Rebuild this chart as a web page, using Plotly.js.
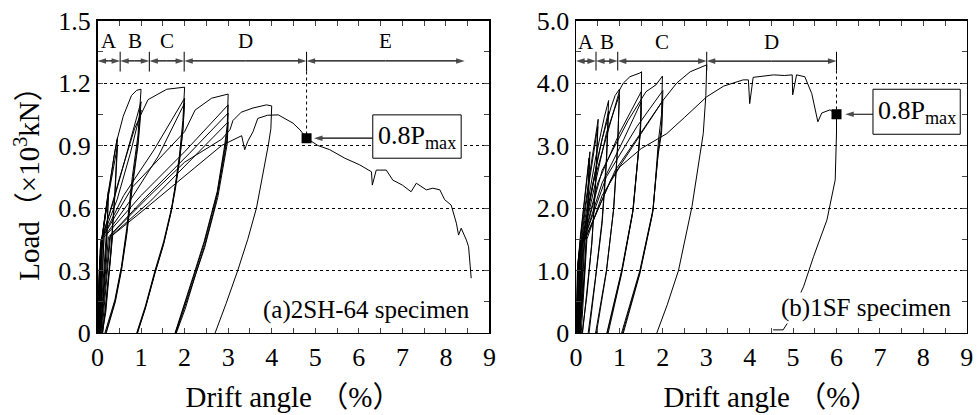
<!DOCTYPE html>
<html>
<head>
<meta charset="utf-8">
<script src="https://cdn.plot.ly/plotly-3.0.1.min.js"></script>
<style>html,body{margin:0;padding:0;background:#fff;}#chart{width:978px;height:415px;}</style>
</head>
<body>
<div id="chart"></div>
<script>
// ---------- data: specimen (a) 2SH-64, drift (%) and load (x10^3 kN), null separates branches ----------
const aDrift = [
  0,0.03,0.07,0.15,0.25,0.21,0.14,0.06,null,
  0,0.04,0.12,0.25,0.21,0.14,0.07,null,
  0,0.05,0.15,0.28,0.38,0.46,0.40,0.30,0.18,0.10,null,
  0.01,0.06,0.20,0.46,0.40,0.30,0.19,0.11,null,
  0.02,0.08,0.25,0.44,0.59,0.78,0.90,1.00,0.93,0.80,0.67,0.55,0.40,0.17,null,
  0.03,0.07,0.35,0.70,1.00,0.93,0.80,0.67,0.55,0.40,0.19,null,
  0.04,0.10,0.45,0.75,1.00,0.93,0.80,0.67,0.55,0.41,0.20,null,
  0.05,0.12,0.50,0.85,1.00,1.16,1.59,1.85,2.00,1.96,1.88,1.78,1.70,1.52,1.32,1.10,0.90,null,
  0.03,0.10,0.60,1.30,2.00,1.96,1.88,1.78,1.70,1.52,1.32,1.10,0.91,null,
  0.05,0.15,0.70,1.40,2.00,1.96,1.88,1.78,1.69,1.51,1.31,1.10,0.92,null,
  0.05,0.15,0.80,1.60,2.00,2.24,2.62,3.00,2.98,2.92,2.85,2.75,2.65,2.45,2.24,2.00,1.78,null,
  0.05,0.20,1.00,2.00,3.00,2.98,2.92,2.85,2.75,2.65,2.45,2.24,2.00,1.79,null,
  0.07,0.25,1.10,2.10,3.00,2.98,2.92,2.85,2.75,2.66,2.46,2.25,2.01,1.80,null,
  0.08,0.28,1.20,2.20,3.00,2.98,2.92,2.85,2.76,2.66,2.46,2.25,2.02,1.81,null,
  0.10,0.30,1.20,2.00,2.85,3.04,3.11,3.30,3.57,3.88,4.00,3.98,3.92,3.80,3.65,3.45,3.22,2.95,2.70,null,
  0.12,0.35,1.00,1.70,2.40,2.85,3.31,3.38,3.45,3.57,3.68,3.90,4.15,4.49,4.65,4.80,5.06,5.33,5.68,6.02,6.29,6.31,6.40,6.63,6.78,7.00,7.20,7.32,7.55,7.70,7.86,7.97,8.12,8.24,8.29,8.35,8.47,8.52,8.58
];
const aLoad = [
  0,0.22,0.38,0.53,0.68,0.45,0.20,0,null,
  0,0.30,0.47,0.66,0.44,0.19,0,null,
  0,0.35,0.52,0.72,0.85,0.94,0.68,0.38,0.10,0,null,
  0,0.40,0.60,0.90,0.66,0.36,0.10,0,null,
  0,0.42,0.68,0.92,1.04,1.14,1.165,1.17,0.95,0.75,0.50,0.32,0.16,0,null,
  0,0.44,0.62,0.88,1.11,0.92,0.72,0.48,0.31,0.15,0,null,
  0,0.45,0.64,0.86,1.07,0.90,0.70,0.47,0.30,0.15,0,null,
  0,0.46,0.74,0.98,1.05,1.12,1.17,1.175,1.18,1.02,0.85,0.70,0.60,0.44,0.30,0.13,0,null,
  0,0.45,0.66,0.88,1.127,0.98,0.83,0.69,0.59,0.43,0.29,0.12,0,null,
  0,0.46,0.62,0.85,1.104,0.97,0.82,0.68,0.58,0.42,0.28,0.12,0,null,
  0,0.47,0.70,0.88,0.966,1.07,1.127,1.147,1.00,0.90,0.80,0.68,0.60,0.44,0.30,0.14,0,null,
  0,0.47,0.66,0.87,1.095,0.97,0.88,0.79,0.67,0.59,0.43,0.29,0.13,0,null,
  0,0.46,0.65,0.86,1.056,0.94,0.86,0.77,0.66,0.58,0.42,0.28,0.13,0,null,
  0,0.46,0.63,0.84,1.013,0.91,0.84,0.76,0.65,0.57,0.41,0.28,0.12,0,null,
  0,0.47,0.66,0.82,0.93,0.975,1.02,1.06,1.08,1.095,1.09,0.98,0.90,0.77,0.60,0.45,0.30,0.14,0,null,
  0,0.47,0.58,0.70,0.82,0.90,0.947,0.88,0.92,0.966,1.03,1.045,1.047,1.007,0.975,0.935,0.90,0.88,0.839,0.807,0.774,0.71,0.782,0.782,0.734,0.71,0.678,0.719,0.687,0.695,0.687,0.64,0.614,0.527,0.47,0.503,0.446,0.414,0.263
];
// ---------- data: specimen (b) 1SF ----------
const bDrift = [
  0,0.02,0.05,0.10,0.18,0.26,0.32,0.28,0.20,0.12,0.07,null,
  0,0.03,0.10,0.20,0.30,0.26,0.19,0.12,0.08,null,
  0.01,0.04,0.12,0.26,0.38,0.45,0.51,0.46,0.37,0.25,0.14,null,
  0.02,0.05,0.15,0.30,0.50,0.45,0.36,0.24,0.15,null,
  0.03,0.06,0.20,0.45,0.65,0.75,0.70,0.60,0.45,0.28,null,
  0.04,0.08,0.25,0.50,0.75,0.70,0.60,0.46,0.30,null,
  0.04,0.08,0.30,0.60,0.80,0.90,1.00,0.96,0.87,0.70,0.45,null,
  0.05,0.10,0.35,0.70,1.00,0.95,0.86,0.70,0.47,null,
  0.05,0.10,0.40,0.80,1.01,1.09,1.24,1.47,1.51,1.50,1.45,1.32,1.05,0.71,null,
  0.06,0.12,0.50,1.00,1.50,1.49,1.44,1.31,1.05,0.72,null,
  0.07,0.14,0.60,1.10,1.50,1.48,1.43,1.30,1.05,0.74,null,
  0.07,0.14,0.60,1.20,1.61,1.84,1.99,1.97,1.90,1.78,1.47,1.05,null,
  0.08,0.16,0.70,1.40,2.00,1.97,1.90,1.77,1.47,1.07,null,
  0.09,0.18,0.80,1.50,2.00,1.97,1.89,1.76,1.47,1.09,null,
  0.10,0.20,0.90,1.60,2.00,2.32,2.63,3.01,2.99,2.93,2.67,2.36,2.10,1.86,null,
  0.12,0.25,0.60,1.01,1.50,2.09,2.50,3.01,3.40,3.85,3.97,4.00,4.08,4.55,4.80,4.98,4.99,5.08,5.27,5.43,5.57,5.66,5.85,6.00,6.00,5.97,5.78,5.47,5.24,5.00,4.89,4.77,4.54
];
const bLoad = [
  0,0.6,1.1,1.5,2.0,2.5,2.9,2.0,1.0,0.3,0,null,
  0,1.0,1.55,2.2,2.8,1.9,0.95,0.3,0,null,
  0,1.1,1.6,2.3,2.85,3.15,3.42,2.5,1.5,0.6,0,null,
  0,1.15,1.65,2.4,3.3,2.4,1.4,0.55,0,null,
  0,1.2,1.8,2.8,3.45,3.72,2.8,1.8,0.9,0,null,
  0,1.2,1.85,2.8,3.55,2.7,1.75,0.9,0,null,
  0,1.25,2.1,3.1,3.6,3.8,3.9,3.0,2.0,1.0,0,null,
  0,1.3,2.1,3.2,3.81,2.9,1.95,0.98,0,null,
  0,1.3,2.4,3.4,3.9,4.0,4.1,4.16,4.18,3.5,3.0,2.0,1.0,0,null,
  0,1.35,2.4,3.2,3.86,3.3,2.9,1.95,0.97,0,null,
  0,1.4,2.4,3.1,3.7,3.2,2.85,1.9,0.95,0,null,
  0,1.4,2.6,3.4,3.86,3.97,4.11,3.5,3.09,2.0,1.0,0,null,
  0,1.45,2.5,3.3,3.88,3.3,2.95,1.95,0.97,0,null,
  0,1.45,2.45,3.2,3.72,3.2,2.85,1.9,0.95,0,null,
  0,1.5,2.6,3.3,3.72,4.0,4.18,4.29,3.8,3.19,2.02,1.0,0.45,0,null,
  0,1.5,2.2,2.66,2.95,3.19,3.45,3.78,3.95,4.05,4.05,3.67,4.09,4.13,4.12,4.13,3.81,4.13,4.10,3.83,3.38,3.52,3.57,3.50,3.2,2.45,1.81,1.22,0.74,0.38,0.18,0.05,0.05
];
// 0.8Pmax points
const aPmaxDrift = [4.8];
const aPmaxLoad = [0.935];
const bPmaxDrift = [6.0];
const bPmaxLoad = [3.5];
// stage boundaries (drift %) and names
const aStageBounds = [0, 0.52, 1.19, 1.99, 4.8, 8.43];
const aStageNames = ['A','B','C','D','E'];
const bStageBounds = [0, 0.46, 0.96, 3.01, 6.0];
const bStageNames = ['A','B','C','D'];
// ticks
const xTicks = [0,1,2,3,4,5,6,7,8,9];
const aYTicks = [0,0.3,0.6,0.9,1.2,1.5];
const aYTickText = ['0','0.3','0.6','0.9','1.2','1.5'];
const bYTicks = [0,1,2,3,4,5];
const bYTickText = ['0','1.0','2.0','3.0','4.0','5.0'];

// ---------- styling / layout ----------
const FONT = 'Liberation Serif, Times New Roman, Noto Sans CJK SC, serif';
const lineStyle = {color:'#000', width:1};
const traces = [
  {x:aDrift, y:aLoad, xaxis:'x', yaxis:'y', mode:'lines', line:lineStyle, connectgaps:false, hoverinfo:'skip'},
  {x:bDrift, y:bLoad, xaxis:'x2', yaxis:'y2', mode:'lines', line:lineStyle, connectgaps:false, hoverinfo:'skip'},
  {x:aPmaxDrift, y:aPmaxLoad, xaxis:'x', yaxis:'y', mode:'markers', marker:{symbol:'square', size:10, color:'#000'}, hoverinfo:'skip'},
  {x:bPmaxDrift, y:bPmaxLoad, xaxis:'x2', yaxis:'y2', mode:'markers', marker:{symbol:'square', size:10, color:'#000'}, hoverinfo:'skip'}
];

// double-headed dimension arrows as line traces with arrow symbols at both ends
function stageArrows(bounds, yLevel, xa, ya){
  const xs=[], ys=[], sz=[];
  for (let i=0;i<bounds.length-1;i++){
    const mid=(bounds[i]+bounds[i+1])/2;
    xs.push(mid, bounds[i+1], null, mid, bounds[i], null);
    ys.push(yLevel, yLevel, null, yLevel, yLevel, null);
    sz.push(0, 9, 0, 0, 9, 0);
  }
  return {x:xs, y:ys, xaxis:xa, yaxis:ya, mode:'lines+markers', line:{color:'#000', width:1.2},
    marker:{symbol:'arrow', angleref:'previous', size:sz, color:'#000', line:{width:0}}, hoverinfo:'skip', cliponaxis:false};
}
traces.push(stageArrows(aStageBounds, 1.306, 'x', 'y'));
traces.push(stageArrows(bStageBounds, 4.35, 'x2', 'y2'));
// pointer arrows from the 0.8Pmax boxes
function pointer(xFrom, xTo, yLevel, xa, ya){
  return {x:[xFrom, xTo], y:[yLevel, yLevel], xaxis:xa, yaxis:ya, mode:'lines+markers', line:{color:'#000', width:1.2},
    marker:{symbol:'arrow', angleref:'previous', size:[0,9], color:'#000', line:{width:0}}, hoverinfo:'skip'};
}
traces.push(pointer(6.32, 4.97, aPmaxLoad[0], 'x', 'y'));
traces.push(pointer(6.84, 6.2, bPmaxLoad[0], 'x2', 'y2'));

function xAxis(domain, anchor){
  return {domain:domain, anchor:anchor, range:[0,9], tickvals:xTicks, ticks:'inside', ticklen:5, tickwidth:1,
    minor:{dtick:0.5, ticks:'inside', ticklen:5, tickwidth:1, showgrid:false},
    mirror:'allticks', showline:true, linewidth:1.5, linecolor:'#000', showgrid:false, zeroline:false,
    tickfont:{family:FONT, size:26, color:'#000'},
    title:{text:'Drift angle （%）', font:{family:FONT, size:29, color:'#000'}, standoff:16}};
}
function yAxis(domain, anchor, range, vals, text, minorStep){
  return {domain:domain, anchor:anchor, range:range, tickvals:vals, ticktext:text, ticks:'inside', ticklen:5, tickwidth:1,
    minor:{dtick:minorStep, ticks:'inside', ticklen:5, tickwidth:1, showgrid:false},
    mirror:'allticks', showline:true, linewidth:1.5, linecolor:'#000',
    showgrid:true, gridcolor:'#000', gridwidth:1, griddash:'dot', zeroline:false,
    tickfont:{family:FONT, size:26, color:'#000'}};
}

const yDom = [0.1976, 0.9506];
const layout = {
  width:978, height:415, margin:{l:0,r:0,t:0,b:0}, paper_bgcolor:'#fff', plot_bgcolor:'#fff',
  showlegend:false,
  xaxis: xAxis([0.0997,0.5005],'y'),
  yaxis: yAxis(yDom,'x',[0,1.5],aYTicks,aYTickText,0.15),
  xaxis2: xAxis([0.589,0.9885],'y2'),
  yaxis2: yAxis(yDom,'x2',[0,5],bYTicks,bYTickText,0.5),
  shapes:[], annotations:[]
};

// stage tick lines and letters
function addStages(xr, yr, bounds, names, yTick0, yTick1, yLabel, lastIsEnd){
  for (let i=1;i<bounds.length;i++){
    if (i < bounds.length-1 || !lastIsEnd){
      layout.shapes.push({type:'line', xref:xr, yref:yr, x0:bounds[i], x1:bounds[i], y0:yTick0, y1:yTick1, line:{color:'#000', width:1}});
    }
  }
  for (let i=0;i<bounds.length-1;i++){
    layout.annotations.push({xref:xr, yref:yr, x:(bounds[i]+bounds[i+1])/2, y:yLabel, text:names[i], showarrow:false,
      font:{family:FONT, size:21, color:'#000'}});
  }
}
addStages('x','y',aStageBounds,aStageNames,1.255,1.35,1.40,true);
addStages('x2','y2',bStageBounds,bStageNames,4.2,4.5,4.66,false);

// dotted drop lines to 0.8Pmax
layout.shapes.push({type:'line', xref:'x', yref:'y', x0:aPmaxDrift[0], x1:aPmaxDrift[0], y0:1.255, y1:aPmaxLoad[0], line:{color:'#000', width:1, dash:'dot'}});
layout.shapes.push({type:'line', xref:'x2', yref:'y2', x0:bPmaxDrift[0], x1:bPmaxDrift[0], y0:4.2, y1:bPmaxLoad[0], line:{color:'#000', width:1, dash:'dot'}});

// 0.8Pmax boxes
layout.shapes.push({type:'rect', xref:'x', yref:'y', x0:6.32, x1:8.35, y0:0.839, y1:1.047, fillcolor:'#fff', line:{color:'#000', width:1}, layer:'above'});
layout.shapes.push({type:'rect', xref:'x2', yref:'y2', x0:6.84, x1:8.85, y0:3.18, y1:3.90, fillcolor:'#fff', line:{color:'#000', width:1}, layer:'above'});
layout.annotations.push({xref:'x', yref:'y', x:7.335, y:0.943, text:'0.8P<sub>max</sub>', showarrow:false, font:{family:FONT, size:26, color:'#000'}});
layout.annotations.push({xref:'x2', yref:'y2', x:7.845, y:3.54, text:'0.8P<sub>max</sub>', showarrow:false, font:{family:FONT, size:26, color:'#000'}});

// specimen labels
layout.annotations.push({xref:'x', yref:'y', x:6.17, y:0.11, text:'(a)2SH-64 specimen', showarrow:false, font:{family:FONT, size:25, color:'#000'}});
layout.annotations.push({xref:'x2', yref:'y2', x:6.69, y:0.40, text:'(b)1SF specimen', showarrow:false, bgcolor:'#fff', font:{family:FONT, size:25, color:'#000'}});

// y-axis title (left panel only)
layout.annotations.push({xref:'paper', yref:'paper', x:27/978, y:(yDom[0]+yDom[1])/2, xanchor:'center', yanchor:'middle', textangle:-90,
  text:'Load（×10<sup>3</sup>kN）', showarrow:false, font:{family:FONT, size:29, color:'#000'}});

Plotly.newPlot('chart', traces, layout, {staticPlot:true, displayModeBar:false});
</script>
</body>
</html>
